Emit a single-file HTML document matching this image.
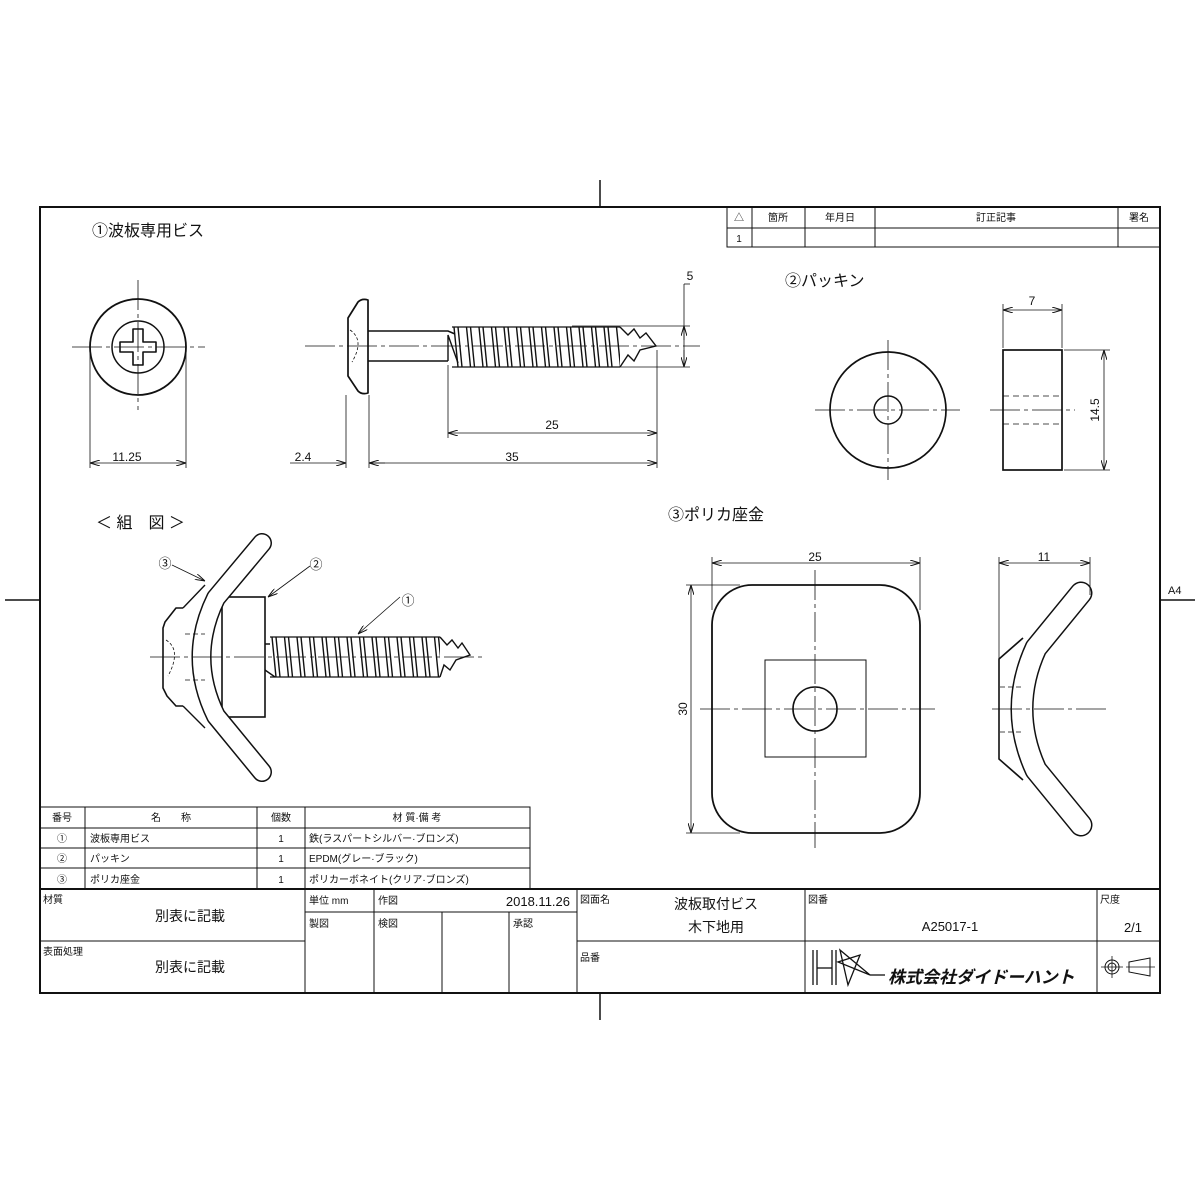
<!DOCTYPE html>
<html><head><meta charset="utf-8"><style>
body{margin:0;background:#fff}
svg{display:block}
text{font-family:"Liberation Sans","Noto Sans CJK JP",sans-serif;fill:#111}
</style></head><body>
<svg width="1200" height="1200" viewBox="0 0 1200 1200" xmlns="http://www.w3.org/2000/svg">
<defs>
<pattern id="th" patternUnits="userSpaceOnUse" width="12.5" height="60" x="452" y="327">
<path d="M2,0 L8,60 M6,0 L12,60" stroke="#111" stroke-width="1.4" fill="none"/>
</pattern>
<pattern id="th2" patternUnits="userSpaceOnUse" width="12.5" height="60" x="270" y="637">
<path d="M2,0 L8,60 M6,0 L12,60" stroke="#111" stroke-width="1.4" fill="none"/>
</pattern>
<marker id="a" markerWidth="10" markerHeight="6" refX="10" refY="3" orient="auto-start-reverse" markerUnits="userSpaceOnUse"><path d="M0,0 L10,3 L0,6" fill="none" stroke="#111" stroke-width="1"/></marker>
</defs>
<g stroke="#111" fill="none">
<rect x="40" y="207" width="1120" height="786" stroke-width="2"/>
<line x1="600" y1="180" x2="600" y2="207" stroke-width="1.5"/>
<line x1="600" y1="993" x2="600" y2="1020" stroke-width="1.5"/>
<line x1="5" y1="600" x2="40" y2="600" stroke-width="1.5"/>
<line x1="1160" y1="600" x2="1195" y2="600" stroke-width="1.5"/>
<g stroke-width="1">
<rect x="727" y="207" width="433" height="40"/>
<line x1="727" y1="228" x2="1160" y2="228"/>
<line x1="752" y1="207" x2="752" y2="247"/><line x1="805" y1="207" x2="805" y2="247"/>
<line x1="875" y1="207" x2="875" y2="247"/><line x1="1118" y1="207" x2="1118" y2="247"/>
</g>
<circle cx="138" cy="347" r="48" stroke-width="1.8"/>
<circle cx="138" cy="347" r="26" stroke-width="1.5"/>
<path d="M133,329 h10 v13 h13 v10 h-13 v13 h-10 v-13 h-13 v-10 h13z" stroke-width="1.6" stroke-linejoin="round"/>
<g stroke-width="0.8">
<line x1="72" y1="347" x2="205" y2="347" stroke-dasharray="30,4,4,4"/>
<line x1="138" y1="280" x2="138" y2="410" stroke-dasharray="30,4,4,4"/>
<line x1="90" y1="352" x2="90" y2="468"/><line x1="186" y1="352" x2="186" y2="468"/>
<line x1="90" y1="463" x2="186" y2="463" marker-start="url(#a)" marker-end="url(#a)"/>
</g>
<path d="M368,300 Q362,298 358,302 L348,318 L348,376 L358,391 Q362,395 368,393 Z" stroke-width="1.7" stroke-linejoin="round"/>
<path d="M350,330 Q365,340 352,362" stroke-width="0.8" stroke-dasharray="3,2"/>
<path d="M368,331 L448,331 L455,334 M368,361 L448,361" stroke-width="1.6"/>
<rect x="452" y="327" width="168" height="40" fill="url(#th)" stroke="none"/>
<path d="M452,327 L620,327 M452,367 L620,367" stroke-width="1.2"/>
<path d="M448,361 L448,335 L458,363 M620,327 L628,335 L634,329 L640,338 L646,333 L656,346 L640,350 L634,361 L628,355 L620,367" stroke-width="1.4"/>
<g stroke-width="0.8">
<line x1="305" y1="346" x2="700" y2="346" stroke-dasharray="30,4,4,4"/>
<line x1="346" y1="395" x2="346" y2="468"/><line x1="369" y1="395" x2="369" y2="468"/>
<line x1="448" y1="365" x2="448" y2="438"/><line x1="657" y1="350" x2="657" y2="468"/>
<line x1="448" y1="433" x2="657" y2="433" marker-start="url(#a)" marker-end="url(#a)"/>
<line x1="369" y1="463" x2="657" y2="463" marker-start="url(#a)" marker-end="url(#a)"/>
<line x1="290" y1="463" x2="346" y2="463" marker-end="url(#a)"/>
<line x1="369" y1="463" x2="385" y2="463"/>
<line x1="572" y1="326" x2="690" y2="326"/><line x1="560" y1="367" x2="690" y2="367"/>
<line x1="684" y1="284" x2="684" y2="367"/><line x1="684" y1="284" x2="690" y2="284"/>
<line x1="684" y1="340" x2="684" y2="326" marker-end="url(#a)"/>
<line x1="684" y1="350" x2="684" y2="367" marker-end="url(#a)"/>
</g>
<circle cx="888" cy="410" r="58" stroke-width="1.7"/>
<circle cx="888" cy="410" r="14" stroke-width="1.5"/>
<rect x="1003" y="350" width="59" height="120" stroke-width="1.7"/>
<g stroke-width="0.8">
<line x1="815" y1="410" x2="960" y2="410" stroke-dasharray="30,4,4,4"/>
<line x1="888" y1="340" x2="888" y2="480" stroke-dasharray="30,4,4,4"/>
<line x1="990" y1="410" x2="1075" y2="410" stroke-dasharray="30,4,4,4"/>
<line x1="1003" y1="396" x2="1062" y2="396" stroke-dasharray="6,4"/>
<line x1="1003" y1="424" x2="1062" y2="424" stroke-dasharray="6,4"/>
<line x1="1003" y1="304" x2="1003" y2="348"/><line x1="1062" y1="304" x2="1062" y2="348"/>
<line x1="1003" y1="310" x2="1062" y2="310" marker-start="url(#a)" marker-end="url(#a)"/>
<line x1="1064" y1="350" x2="1110" y2="350"/><line x1="1064" y1="470" x2="1110" y2="470"/>
<line x1="1104" y1="350" x2="1104" y2="470" marker-start="url(#a)" marker-end="url(#a)"/>
</g>
<rect x="712" y="585" width="208" height="248" rx="40" stroke-width="1.8"/>
<rect x="765" y="660" width="101" height="97" stroke-width="1"/>
<circle cx="815" cy="709" r="22" stroke-width="1.6"/>
<g stroke-width="0.8">
<line x1="700" y1="709" x2="935" y2="709" stroke-dasharray="30,4,4,4"/>
<line x1="815" y1="570" x2="815" y2="848" stroke-dasharray="30,4,4,4"/>
<line x1="712" y1="557" x2="712" y2="610"/><line x1="920" y1="557" x2="920" y2="610"/>
<line x1="712" y1="563" x2="920" y2="563" marker-start="url(#a)" marker-end="url(#a)"/>
<line x1="686" y1="585" x2="740" y2="585"/><line x1="686" y1="833" x2="740" y2="833"/>
<line x1="691" y1="585" x2="691" y2="833" marker-start="url(#a)" marker-end="url(#a)"/>
</g>
<path d="M1081,593 L1036,648 Q1008,709 1036,770 L1081,825" stroke-width="23" stroke-linecap="round" stroke-linejoin="round"/>
<path d="M1081,593 L1036,648 Q1008,709 1036,770 L1081,825" stroke="#fff" stroke-width="20" stroke-linecap="round" stroke-linejoin="round"/>
<path d="M1023,638 L999,659 L999,759 L1023,780" stroke-width="1.6"/>
<g stroke-width="0.8">
<line x1="992" y1="709" x2="1108" y2="709" stroke-dasharray="30,4,4,4"/>
<line x1="1000" y1="687" x2="1022" y2="687" stroke-dasharray="5,3"/>
<line x1="1000" y1="732" x2="1022" y2="732" stroke-dasharray="5,3"/>
<line x1="999" y1="557" x2="999" y2="659"/><line x1="1090" y1="557" x2="1090" y2="595"/>
<line x1="999" y1="563" x2="1090" y2="563" marker-start="url(#a)" marker-end="url(#a)"/>
</g>
<rect x="222" y="597" width="43" height="120" stroke-width="1.6"/>
<path d="M262,543 L216,598 Q187,657 216,716 L262,772" stroke-width="20" stroke-linecap="round" stroke-linejoin="round"/>
<path d="M262,543 L216,598 Q187,657 216,716 L262,772" stroke="#fff" stroke-width="17" stroke-linecap="round" stroke-linejoin="round"/>
<path d="M183,608 L176,608 L165,622 L163,628 L163,688 L167,696 L176,706 L183,706" stroke-width="1.6" stroke-linejoin="round"/>
<path d="M183,608 L205,585 M183,706 L205,728" stroke-width="1.4"/>
<path d="M166,640 Q182,650 168,676" stroke-width="0.8" stroke-dasharray="3,2"/>
<line x1="185" y1="634" x2="205" y2="634" stroke-width="0.8" stroke-dasharray="5,3"/>
<line x1="185" y1="680" x2="205" y2="680" stroke-width="0.8" stroke-dasharray="5,3"/>
<rect x="270" y="637" width="170" height="40" fill="url(#th2)" stroke="none"/>
<path d="M270,637 L440,637 M270,677 L440,677" stroke-width="1.2"/>
<path d="M265,644 L270,644 M265,670 L275,677 M440,637 L447,645 L452,640 L458,648 L462,643 L470,655 L456,660 L450,670 L444,665 L440,677" stroke-width="1.4"/>
<line x1="150" y1="657" x2="485" y2="657" stroke-width="0.8" stroke-dasharray="30,4,4,4"/>
<g stroke-width="0.8">
<line x1="400" y1="597" x2="358" y2="634" marker-end="url(#a)"/>
<line x1="310" y1="566" x2="268" y2="597" marker-end="url(#a)"/>
<line x1="172" y1="565" x2="205" y2="581" marker-end="url(#a)"/>
</g>
<g stroke-width="1">
<polyline points="40,807 530,807 530,889"/>
<line x1="40" y1="828" x2="530" y2="828"/><line x1="40" y1="848" x2="530" y2="848"/>
<line x1="40" y1="868" x2="530" y2="868"/>
<line x1="85" y1="807" x2="85" y2="889"/><line x1="257" y1="807" x2="257" y2="889"/>
<line x1="305" y1="807" x2="305" y2="889"/>
</g>
<line x1="40" y1="889" x2="1160" y2="889" stroke-width="2"/>
<g stroke-width="1">
<line x1="40" y1="941" x2="305" y2="941"/>
<line x1="305" y1="889" x2="305" y2="993"/><line x1="374" y1="889" x2="374" y2="993"/>
<line x1="305" y1="912" x2="577" y2="912"/>
<line x1="442" y1="912" x2="442" y2="993"/><line x1="509" y1="912" x2="509" y2="993"/>
<line x1="577" y1="889" x2="577" y2="993"/>
<line x1="577" y1="941" x2="1160" y2="941"/>
<line x1="805" y1="889" x2="805" y2="993"/><line x1="1097" y1="889" x2="1097" y2="993"/>
</g>
<g stroke-width="1.3">
<line x1="813" y1="950" x2="813" y2="985"/><line x1="817" y1="950" x2="817" y2="985"/>
<line x1="817" y1="968" x2="832" y2="968"/><line x1="832" y1="950" x2="832" y2="985"/><line x1="836" y1="950" x2="836" y2="985"/>
<path d="M840,950 L848,985 L860,955 L838,962 L870,975 Z"/>
<line x1="870" y1="975" x2="885" y2="975"/>
</g>
<circle cx="1112" cy="967" r="7" stroke-width="1"/><circle cx="1112" cy="967" r="4" stroke-width="1"/>
<line x1="1101" y1="967" x2="1123" y2="967" stroke-width="0.8"/><line x1="1112" y1="956" x2="1112" y2="978" stroke-width="0.8"/>
<path d="M1129,962 L1150,958 L1150,976 L1129,972 Z" stroke-width="1"/><line x1="1126" y1="967" x2="1155" y2="967" stroke-width="0.8"/>
</g>
<g font-size="11">
<text x="1168" y="594">A4</text>
<text x="739" y="221" text-anchor="middle" font-size="10">△</text>
<text x="778" y="221" text-anchor="middle" font-size="10">箇所</text>
<text x="840" y="221" text-anchor="middle" font-size="10">年月日</text>
<text x="996" y="221" text-anchor="middle" font-size="10">訂正記事</text>
<text x="1139" y="221" text-anchor="middle" font-size="10">署名</text>
<text x="739" y="242" text-anchor="middle" font-size="10">1</text>
<text x="127" y="461" text-anchor="middle" font-size="12">11.25</text>
<text x="303" y="461" text-anchor="middle" font-size="12">2.4</text>
<text x="512" y="461" text-anchor="middle" font-size="12">35</text>
<text x="552" y="429" text-anchor="middle" font-size="12">25</text>
<text x="690" y="280" text-anchor="middle" font-size="12">5</text>
<text x="1032" y="305" text-anchor="middle" font-size="12">7</text>
<text transform="translate(1099,410) rotate(-90)" text-anchor="middle" font-size="12">14.5</text>
<text x="815" y="561" text-anchor="middle" font-size="12">25</text>
<text x="1044" y="561" text-anchor="middle" font-size="12">11</text>
<text transform="translate(687,709) rotate(-90)" text-anchor="middle" font-size="12">30</text>
</g>
<g font-size="16">
<text x="92" y="236">①波板専用ビス</text>
<text x="785" y="286">②パッキン</text>
<text x="668" y="520">③ポリカ座金</text>
<text x="96" y="528">＜ 組　図 ＞</text>
</g>
<g font-size="13">
<text x="165" y="568" text-anchor="middle">③</text>
<text x="316" y="569" text-anchor="middle">②</text>
<text x="408" y="605" text-anchor="middle">①</text>
</g>
<g font-size="10">
<text x="62" y="821" text-anchor="middle">番号</text>
<text x="171" y="821" text-anchor="middle">名　　称</text>
<text x="281" y="821" text-anchor="middle">個数</text>
<text x="417" y="821" text-anchor="middle">材 質·備 考</text>
<text x="62" y="842" text-anchor="middle">①</text><text x="90" y="842">波板専用ビス</text><text x="281" y="842" text-anchor="middle">1</text><text x="309" y="842">鉄(ラスパートシルバー·ブロンズ)</text>
<text x="62" y="862" text-anchor="middle">②</text><text x="90" y="862">パッキン</text><text x="281" y="862" text-anchor="middle">1</text><text x="309" y="862">EPDM(グレー·ブラック)</text>
<text x="62" y="883" text-anchor="middle">③</text><text x="90" y="883">ポリカ座金</text><text x="281" y="883" text-anchor="middle">1</text><text x="309" y="883">ポリカーボネイト(クリア·ブロンズ)</text>
<text x="43" y="903">材質</text>
<text x="43" y="955">表面処理</text>
<text x="309" y="904">単位 mm</text>
<text x="378" y="904">作図</text>
<text x="309" y="927">製図</text>
<text x="378" y="927">検図</text>
<text x="513" y="927">承認</text>
<text x="580" y="903">図面名</text>
<text x="580" y="961">品番</text>
<text x="808" y="903">図番</text>
<text x="1100" y="903">尺度</text>
</g>
<g font-size="14">
<text x="190" y="921" text-anchor="middle">別表に記載</text>
<text x="190" y="972" text-anchor="middle">別表に記載</text>
<text x="570" y="906" text-anchor="end" font-size="13">2018.11.26</text>
<text x="716" y="909" text-anchor="middle">波板取付ビス</text>
<text x="716" y="932" text-anchor="middle">木下地用</text>
<text x="950" y="931" text-anchor="middle" font-size="13">A25017-1</text>
<text x="1133" y="932" text-anchor="middle" font-size="13">2/1</text>
<text x="888" y="983" font-size="17" font-weight="bold" font-style="italic">株式会社ダイドーハント</text>
</g>
</svg>
</body></html>
